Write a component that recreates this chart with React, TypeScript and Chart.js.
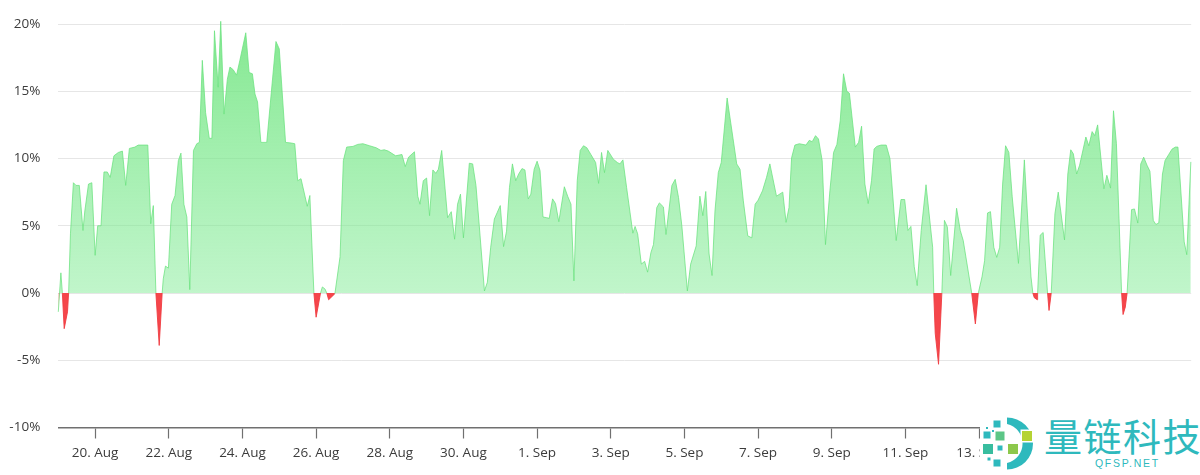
import React, { useRef, useEffect } from 'react';
import { Chart, registerables } from 'chart.js';

Chart.register(...registerables);

// days counted from 19 Aug 00:00
const sampleDays = [
  0, 0.07, 0.11, 0.16, 0.25, 0.28, 0.33, 0.41, 0.48, 0.57, 0.67, 0.72, 0.82, 0.91, 1.0, 1.07, 1.16, 1.24, 1.33, 1.41,
  1.51, 1.63, 1.74, 1.83, 1.93, 2.08, 2.17, 2.43, 2.51, 2.58, 2.65, 2.74, 2.82, 2.85, 2.91, 2.99, 3.08, 3.17, 3.26, 3.33,
  3.41, 3.49, 3.57, 3.67, 3.76, 3.83, 3.91, 4.0, 4.1, 4.17, 4.24, 4.34, 4.41, 4.5, 4.59, 4.66, 4.75, 4.84, 4.93, 5.09,
  5.18, 5.27, 5.34, 5.41, 5.5, 5.66, 5.91, 6.0, 6.17, 6.33, 6.42, 6.5, 6.59, 6.76, 6.83, 6.94, 7.0, 7.12, 7.17, 7.24,
  7.29, 7.34, 7.51, 7.65, 7.74, 7.83, 8.0, 8.13, 8.27, 8.45, 8.63, 8.76, 8.85, 8.96, 9.16,
  9.33, 9.42, 9.51, 9.67, 9.76, 9.82, 9.91, 10.0, 10.08, 10.17, 10.25, 10.32, 10.41, 10.57, 10.67, 10.76, 10.84, 10.92, 11.0,
  11.16, 11.25, 11.34, 11.43, 11.57, 11.65, 11.74, 11.84, 11.92, 12.0, 12.09, 12.17, 12.25, 12.33, 12.42, 12.5, 12.59, 12.67, 12.76, 12.83,
  12.92, 13.0, 13.08, 13.16, 13.26, 13.33, 13.42, 13.5, 13.59, 13.74, 13.83, 13.92, 14.0, 14.09, 14.17, 14.26, 14.35, 14.46, 14.59, 14.67,
  14.75, 14.83, 14.92, 15.07, 15.18, 15.25, 15.33, 15.43, 15.6, 15.66, 15.73, 15.83, 15.92, 16.0, 16.09, 16.16, 16.25, 16.32, 16.43, 16.5,
  16.66, 16.75, 16.84, 16.93, 17.08, 17.17, 17.32, 17.42, 17.5, 17.58, 17.67, 17.75, 17.83, 17.92, 18.0, 18.16, 18.33, 18.42, 18.51, 18.6,
  18.72, 18.83, 18.92, 19.0, 19.12, 19.23, 19.32, 19.5, 19.67, 19.76, 19.84, 19.91, 20.0, 20.12,
  20.3, 20.39, 20.47, 20.56, 20.64, 20.74, 20.83, 20.95, 21.05, 21.14, 21.23, 21.32, 21.41, 21.48, 21.64, 21.73, 21.81, 21.9, 21.99, 22.08,
  22.15, 22.22, 22.34, 22.48, 22.58, 22.75, 22.88, 22.98, 23.07, 23.15, 23.24, 23.32, 23.43, 23.56, 23.74, 23.77, 23.81, 23.9, 23.99, 24.06,
  24.14, 24.23, 24.39, 24.49, 24.57, 24.8, 24.9, 24.98, 25.08, 25.15, 25.23, 25.31, 25.4, 25.48, 25.56, 25.64, 25.72, 25.81, 25.9, 26.07,
  26.23, 26.41, 26.46, 26.5, 26.58, 26.59, 26.66, 26.74, 26.86, 26.9, 26.96, 27.06, 27.15, 27.32, 27.41, 27.49, 27.56, 27.65, 27.73, 27.9,
  27.98, 28.07, 28.14, 28.22, 28.39, 28.47, 28.57, 28.65, 28.73, 28.87, 28.91, 28.97, 29.02, 29.14, 29.22, 29.31, 29.39, 29.47, 29.56, 29.64,
  29.73, 29.8, 29.88, 29.98, 30.05, 30.15, 30.24, 30.33, 30.4, 30.57, 30.64, 30.75,
];

// change in percent
const sampleValues = [
  -1.4, 1.5, 0, -2.65, -1.4, 0, 4.4, 8.2, 8.0, 8.0, 4.65, 6.1, 8.1, 8.2, 2.8, 5.0, 5.0, 9.0, 9.0, 8.6,
  10.2, 10.45, 10.55, 8.0, 10.75, 10.85, 11.0, 11.0, 5.15, 6.5, 0, -3.9, 0, 1.05, 2.0, 1.85, 6.6, 7.25, 9.85, 10.4,
  6.6, 5.65, 0.25, 10.6, 11.1, 11.2, 17.3, 13.4, 11.5, 11.5, 19.5, 15.3, 20.2, 13.3, 15.9, 16.8, 16.6, 16.2, 17.3, 19.35,
  16.4, 16.3, 14.8, 14.2, 11.2, 11.2, 18.7, 18.15, 11.2, 11.15, 11.1, 8.35, 8.5, 6.45, 7.25, 0, -1.8, 0, 0.45, 0.3,
  0, -0.5, -0.05, 2.7, 9.85, 10.85, 10.9, 11.05, 11.1, 10.95, 10.8, 10.6, 10.65, 10.55, 10.2,
  10.3, 9.4, 10.1, 10.5, 7.2, 6.6, 8.35, 8.55, 5.75, 9.15, 8.9, 9.2, 10.6, 5.6, 6.05, 4.0, 6.6, 7.35, 4.1,
  9.65, 9.6, 8.0, 5.0, 0.15, 0.8, 3.4, 5.5, 6.0, 6.5, 3.45, 4.6, 7.85, 9.6, 8.35, 8.85, 9.25, 9.15, 7.0, 7.35,
  9.2, 9.8, 9.1, 5.65, 5.6, 5.55, 7.0, 6.65, 5.3, 7.9, 7.2, 6.6, 0.9, 8.35, 10.6, 10.95, 10.8, 10.3, 9.7, 8.15,
  10.45, 8.95, 10.6, 9.95, 9.7, 9.6, 9.9, 7.85, 4.45, 4.95, 4.4, 2.15, 2.35, 1.55, 3.0, 3.6, 6.35, 6.7, 6.4, 4.35,
  8.0, 8.45, 7.1, 5.0, 0.15, 2.15, 3.5, 7.2, 5.75, 7.55, 2.9, 1.3, 6.1, 8.95, 9.7, 14.5, 11.3, 9.6, 9.2, 6.85,
  4.25, 4.1, 6.6, 6.9, 7.6, 8.6, 9.6, 7.2, 7.5, 5.25, 6.35, 10.05, 11.0, 11.1,
  11.0, 11.35, 11.25, 11.7, 11.45, 9.85, 3.6, 7.6, 10.45, 11.05, 12.8, 16.3, 15.0, 14.85, 10.85, 11.2, 12.4, 8.1, 6.65, 8.35,
  10.7, 10.9, 11.0, 11.0, 10.0, 3.9, 6.95, 6.95, 4.65, 4.95, 1.95, 0.55, 4.65, 8.05, 3.4, 0, -3.0, -5.3, 0, 5.4,
  4.9, 1.3, 6.3, 4.65, 3.9, 0, -2.3, 0, 1.2, 2.4, 5.95, 6.05, 3.4, 2.65, 3.4, 8.1, 10.95, 10.45, 7.15, 2.2,
  9.9, 1.2, 0, -0.35, -0.5, 0, 4.3, 4.5, 0, -1.3, 0, 5.9, 7.5, 3.95, 8.85, 10.65, 10.35, 8.85, 9.5, 11.6,
  10.95, 12.0, 11.7, 12.5, 7.75, 8.75, 7.8, 13.55, 11.1, 0, -1.6, -1.05, 0, 6.2, 6.25, 5.2, 9.6, 10.1, 9.5, 9.05,
  5.4, 5.1, 5.2, 8.85, 9.85, 10.3, 10.7, 10.85, 10.85, 3.8, 2.85, 9.75,
];

const tickDays = [1, 3, 5, 7, 9, 11, 13, 15, 17, 19, 21, 23, 25, 27, 29];
const tickLabels = [
  '20. Aug', '22. Aug', '24. Aug', '26. Aug', '28. Aug', '30. Aug', '1. Sep', '3. Sep',
  '5. Sep', '7. Sep', '9. Sep', '11. Sep', '13. Sep', '15. Sep', '17. Sep',
];
const percentTicks = [-10, -5, 0, 5, 10, 15, 20];

const labelFont = { family: '"Open Sans", sans-serif', size: 13.5 };

const App: React.FC = () => {
  const chartRef = useRef<HTMLCanvasElement>(null);

  useEffect(() => {
    if (!chartRef.current) return;
    const chart = new Chart(chartRef.current, {
      type: 'line',
      data: {
        datasets: [
          {
            data: sampleDays.map((d, i) => ({ x: d, y: sampleValues[i] })),
            borderWidth: 1,
            borderColor: 'rgba(105,225,125,0.75)',
            segment: {
              borderColor: (c: any) =>
                c.p0.parsed.y <= 0 && c.p1.parsed.y <= 0 ? 'rgba(240,60,65,0.9)' : undefined,
            },
            pointRadius: 0,
            tension: 0,
            clip: false,
            fill: { target: { value: 0 }, above: '#a5eeb0', below: 'rgb(245,70,75)' },
          },
        ],
      },
      options: {
        responsive: false,
        animation: false,
        layout: { padding: { top: 17.3, right: 8.8, left: 0, bottom: 0 } },
        plugins: { legend: { display: false }, tooltip: { enabled: false } },
        scales: {
          x: {
            type: 'linear',
            min: 0,
            max: 30.76,
            afterBuildTicks: (s: any) => {
              s.ticks = tickDays.map((value) => ({ value }));
            },
            afterFit: (s: any) => {
              s.height = 47.5;
            },
            grid: { drawOnChartArea: false, tickLength: 11, tickColor: '#707070', tickWidth: 1.2 },
            border: { color: '#707070', width: 1.5 },
            ticks: {
              autoSkip: false,
              maxRotation: 0,
              padding: 7,
              color: '#3c3c3c',
              font: labelFont,
              callback: (_v: any, i: number) => tickLabels[i],
            },
          },
          y: {
            min: -10,
            max: 20.5,
            afterBuildTicks: (s: any) => {
              s.ticks = percentTicks.map((value) => ({ value }));
            },
            afterFit: (s: any) => {
              s.width = 58.3;
            },
            // invisible tick keeps the labels away from the plot without widening its top margin
            grid: { color: '#e6e6e6', tickLength: 18, tickColor: 'transparent' },
            border: { display: false },
            ticks: {
              padding: 0,
              color: '#3c3c3c',
              font: labelFont,
              callback: (v: any) => `${v}%`,
            },
          },
        },
      },
    });

    // the green fades from the top of the scale down to the zero line
    const y = chart.scales.y;
    const gradient = chart.ctx.createLinearGradient(0, y.getPixelForValue(20), 0, y.getPixelForValue(0));
    gradient.addColorStop(0, 'rgba(110,228,125,0.85)');
    gradient.addColorStop(1, 'rgba(130,235,150,0.5)');
    (chart.data.datasets[0] as any).fill = {
      target: { value: 0 },
      above: gradient,
      below: 'rgb(245,70,75)',
    };
    chart.update();

    return () => chart.destroy();
  }, []);

  return (
    <div style={{ position: 'absolute', left: 0, top: 0, width: 1200, height: 475, overflow: 'hidden', background: '#fff' }}>
      <canvas ref={chartRef} width={1200} height={475} style={{ display: 'block' }}></canvas>
      <svg width={221} height={60} viewBox="980 415 221 60" style={{ position: 'absolute', left: 980, top: 415 }}>
        <rect x={980} y={415} width={221} height={60} fill="#fff" />
        <path d="M1007 417.5 A26 26 0 0 1 1007 469.5 L1007 463 A20 20 0 0 0 1007 424 Z" fill="#2eb9bd" />
        <rect x={1020.5} y={429.5} width={13} height={13} fill="#fff" />
        <rect x={1022} y={431} width={10} height={10} fill="#b5d334" />
        <rect x={1008} y={444} width={10} height={10} fill="#8cc84b" />
        <rect x={995.5} y={431.5} width={9} height={9} fill="#5cc686" />
        <rect x={983} y={444} width={10} height={10} fill="#38bd9f" />
        <rect x={983.5} y={431.5} width={7} height={7} fill="#2eb9bd" />
        <rect x={993.5} y={420.5} width={7} height={7} fill="#2eb9bd" />
        <rect x={993.5} y={459.5} width={7} height={7} fill="#2eb9bd" />
        <rect x={997.5} y={445.5} width={5} height={5} fill="#2eb9bd" />
        <rect x={987.5} y={457.5} width={3} height={3} fill="#2eb9bd" />
        <rect x={986} y={427} width={2} height={2} fill="#2eb9bd" />
        <rect x={992} y={430} width={2} height={2} fill="#2eb9bd" />
        <text x={1044} y={451} fontSize={38} letterSpacing={1.5} fill="#2eb9bd" fontFamily='"Noto Sans CJK SC", sans-serif'>量链科技</text>
        <text x={1095} y={467} fontSize={10.5} letterSpacing={1.7} fill="#2eb9bd" fontFamily='"Liberation Sans", sans-serif'>QFSP.NET</text>
      </svg>
    </div>
  );
};

export default App;
